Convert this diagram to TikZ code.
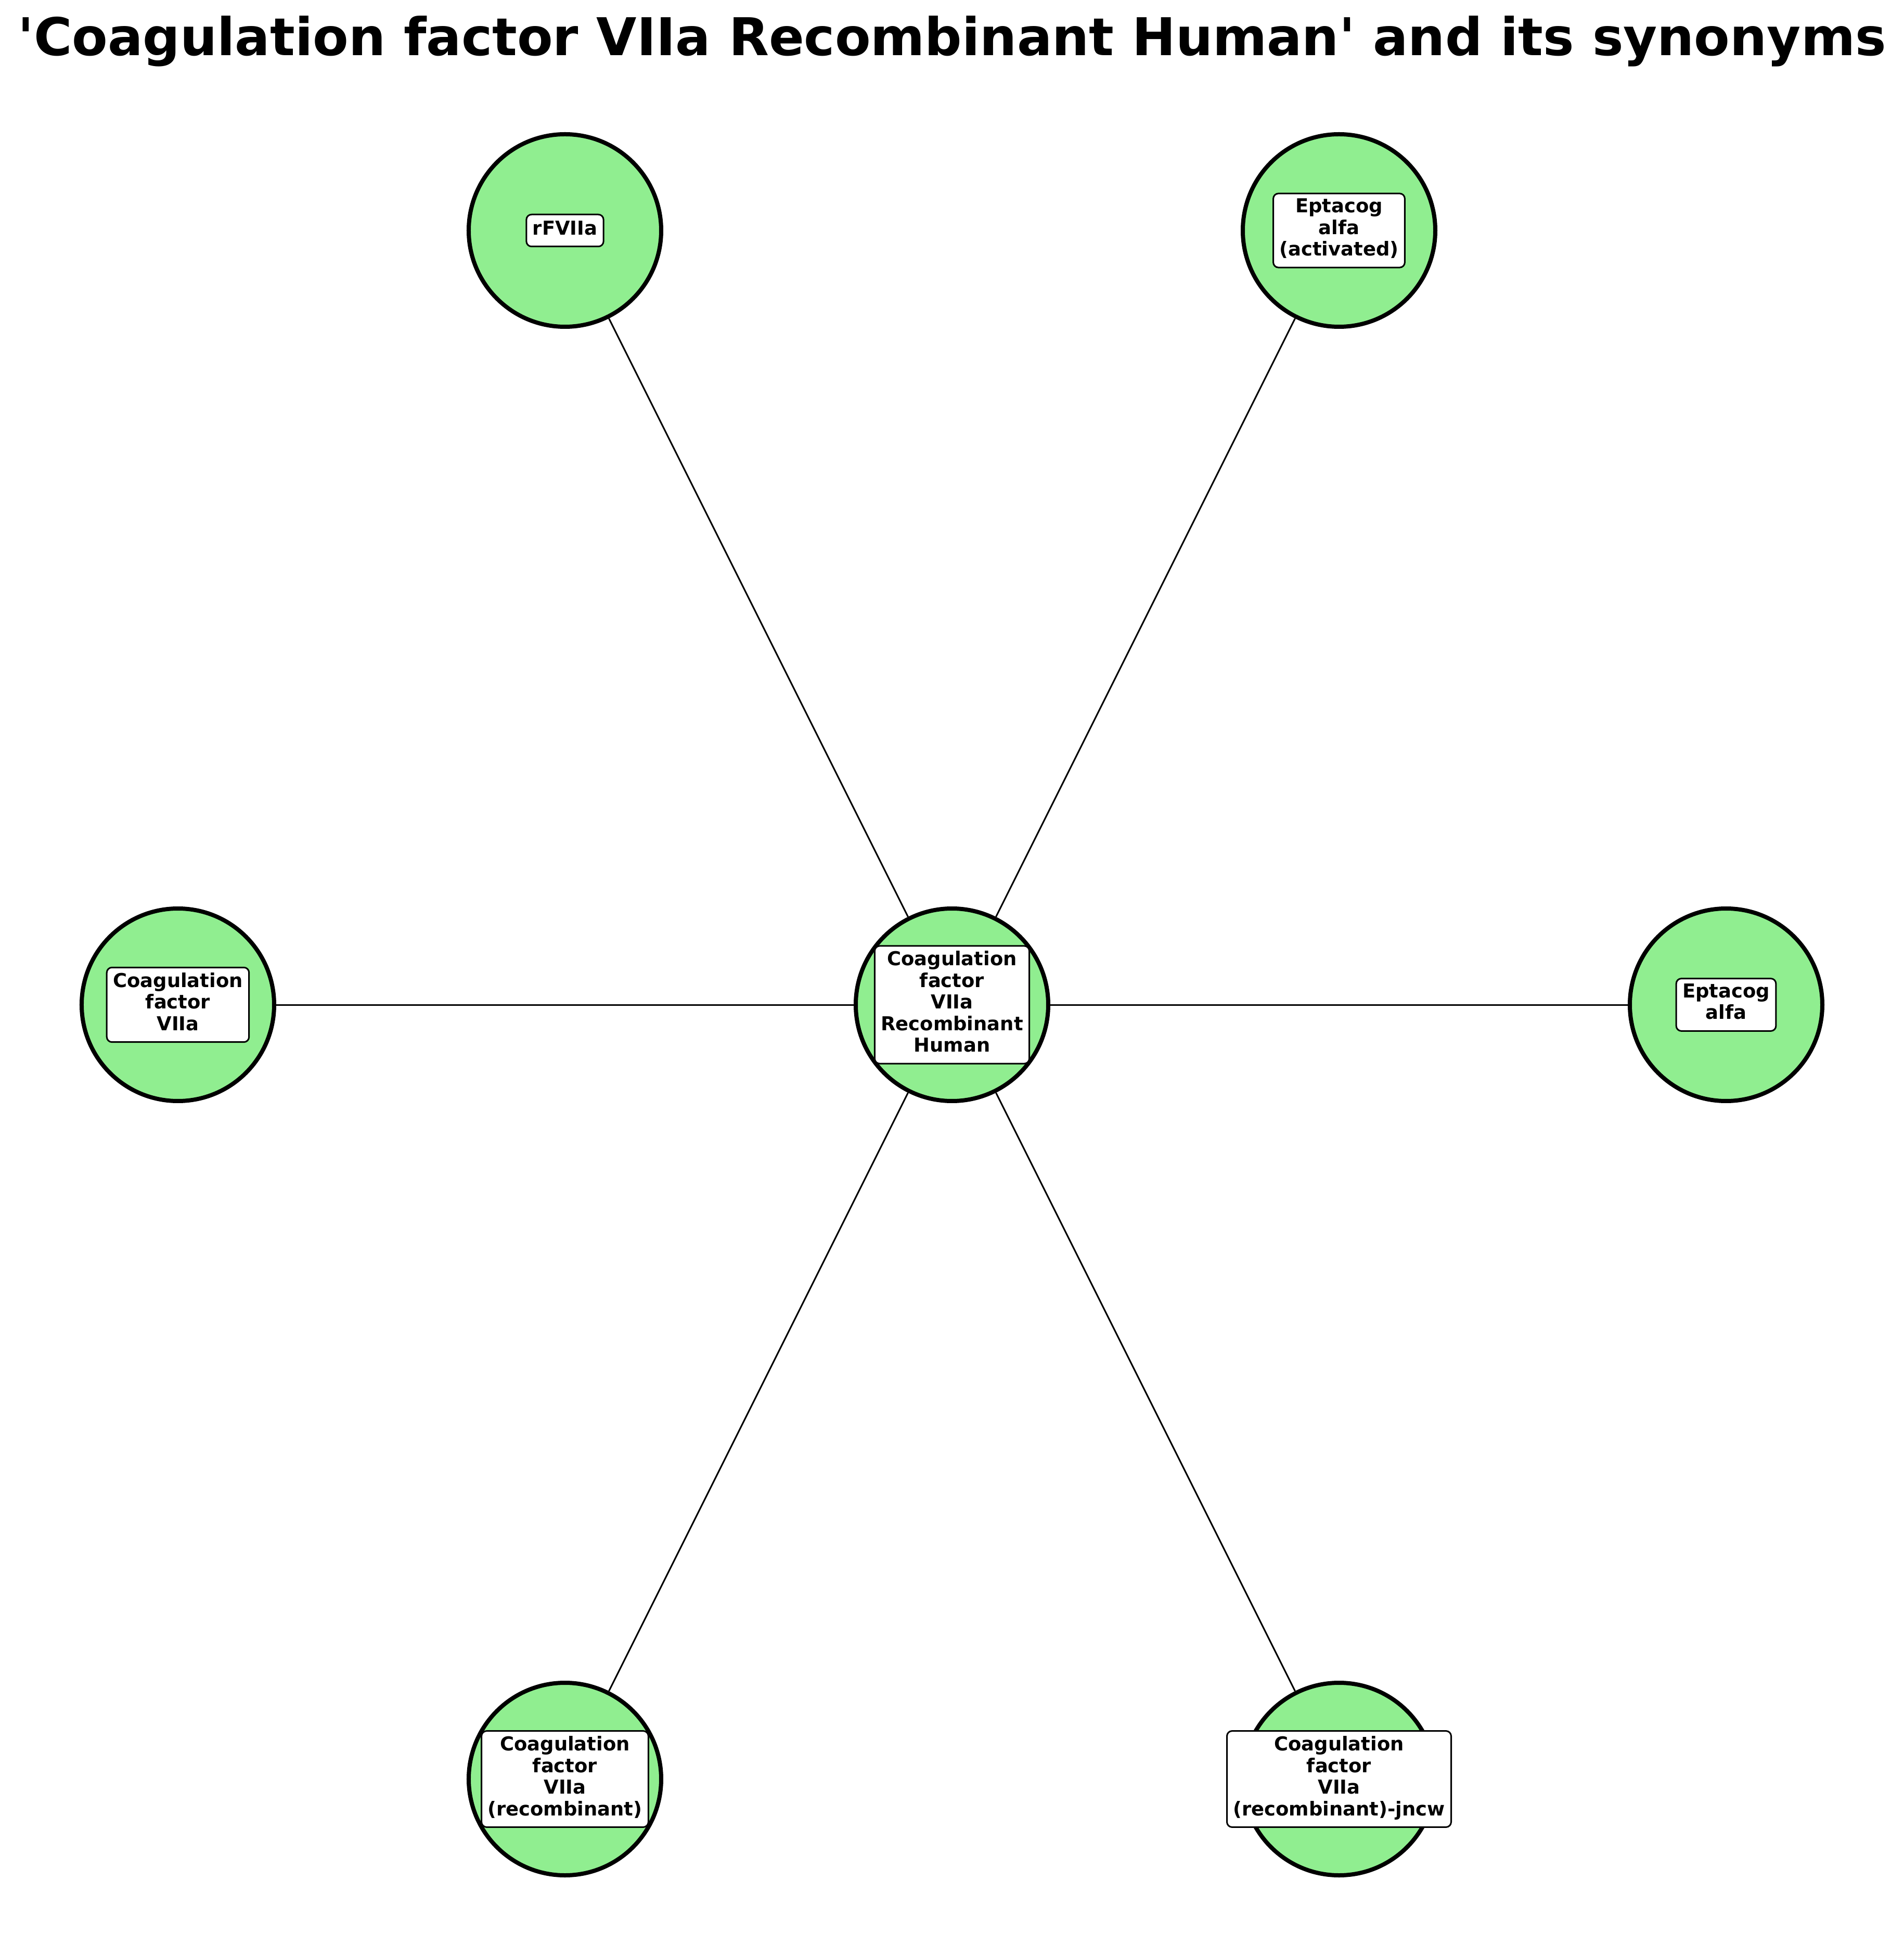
\documentclass[tikz,border=0pt]{standalone}
\usepackage{fontspec}
\setmainfont{DejaVu Sans}
\usepackage{tikz}
\usetikzlibrary{positioning}
\definecolor{nodegreen}{HTML}{90EE90}

\begin{document}
\begin{tikzpicture}[
		syn/.style={circle, draw, line width=0.8mm, fill=nodegreen, minimum size=3.7cm, inner sep=0pt},
		tag/.style={draw, fill=white, line width=0.3mm, rounded corners=1mm, align=center,
			inner xsep=1.2mm, inner ysep=1mm, font=\fontsize{10.5pt}{11.8pt}\selectfont\bfseries,
			execute at begin node=\strut, execute at end node=\strut},
		link/.style={line width=0.3mm}
	]
				\useasboundingbox (-18.3,-18.3) rectangle (18.3,19.31);
				
				\node[anchor=base, font=\fontsize{28.45pt}{33pt}\selectfont\bfseries] (title) at (0,18.24) {\textquotesingle Coagulation factor VIIa Recombinant Human\textquotesingle{} and its synonyms};
				
				\node[syn] (C) at (0,0) {};
				\node[syn] (rf) at (-7.44,14.88) {};
				\node[syn] (epa) at (7.44,14.88) {};
				\node[syn] (cf) at (-14.88,0) {};
				\node[syn] (ep) at (14.88,0) {};
				\node[syn] (cfr) at (-7.44,-14.88) {};
				\node[syn] (cfj) at (7.44,-14.88) {};
				
				\draw[link] (C) -- (rf);
				\draw[link] (C) -- (epa);
				\draw[link] (C) -- (cf);
				\draw[link] (C) -- (ep);
				\draw[link] (C) -- (cfr);
				\draw[link] (C) -- (cfj);
				
				\node[tag] (tC) at (C) {Coagulation\\factor\\VIIa\\Recombinant\\Human};
				\node[tag] (trf) at (rf) {rFVIIa};
				\node[tag] (tepa) at (epa) {Eptacog\\alfa\\(activated)};
				\node[tag] (tcf) at (cf) {Coagulation\\factor\\VIIa};
				\node[tag] (tep) at (ep) {Eptacog\\alfa};
				\node[tag] (tcfr) at (cfr) {Coagulation\\factor\\VIIa\\(recombinant)};
				\node[tag] (tcfj) at (cfj) {Coagulation\\factor\\VIIa\\(recombinant)-jncw};
			\end{tikzpicture}
\end{document}
